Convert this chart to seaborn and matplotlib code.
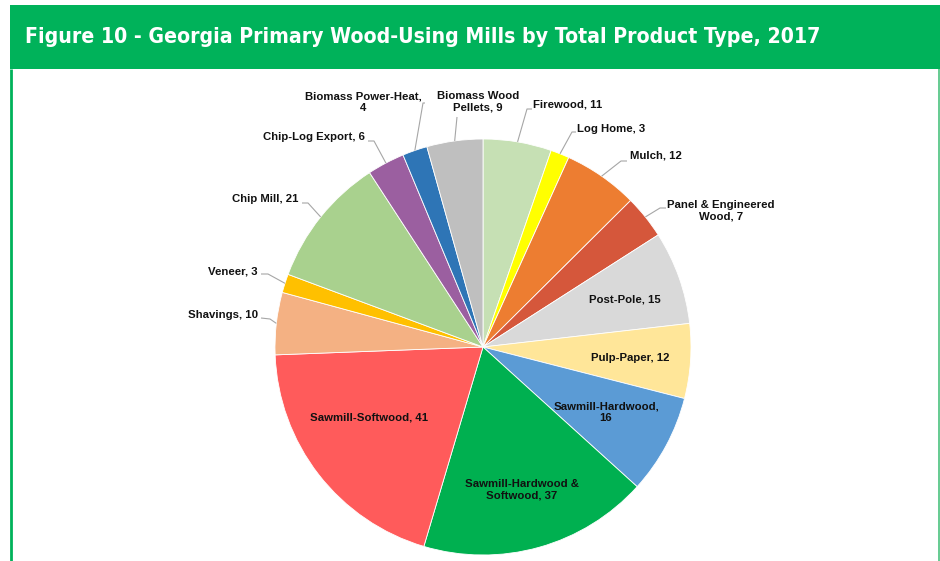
import numpy as np
import pandas as pd
import matplotlib
matplotlib.use("Agg")
import matplotlib.pyplot as plt
import seaborn as sns

# Mill counts by product type (clockwise from 12 o'clock)
categories = [
    "Firewood", "Log Home", "Mulch", "Panel & Engineered Wood", "Post-Pole",
    "Pulp-Paper", "Sawmill-Hardwood", "Sawmill-Hardwood & Softwood",
    "Sawmill-Softwood", "Shavings", "Veneer", "Chip Mill", "Chip-Log Export",
    "Biomass Power-Heat", "Biomass Wood Pellets",
]
mills = [11, 3, 12, 7, 15, 12, 16, 37, 41, 10, 3, 21, 6, 4, 9]
label_texts = [
    "Firewood, 11", "Log Home, 3", "Mulch, 12", "Panel & Engineered\nWood, 7",
    "Post-Pole, 15", "Pulp-Paper, 12", "Sawmill-Hardwood,\n16",
    "Sawmill-Hardwood &\nSoftwood, 37", "Sawmill-Softwood, 41", "Shavings, 10",
    "Veneer, 3", "Chip Mill, 21", "Chip-Log Export, 6", "Biomass Power-Heat,\n4",
    "Biomass Wood\nPellets, 9",
]
title = "Figure 10 - Georgia Primary Wood-Using Mills by Total Product Type, 2017"

colors = [
    "#C6E0B4", "#FFFF00", "#ED7D31", "#D5573B", "#D9D9D9",
    "#FFE699", "#5B9BD5", "#00B050", "#FF5B5B", "#F4B183",
    "#FFC000", "#A9D18E", "#9B5FA0", "#2E75B6", "#BFBFBF",
]

df = pd.DataFrame({"category": categories, "mills": mills, "label": label_texts})

# Layout (pixel coordinates, y measured from the top of the figure)
W, H = 940, 561
CX, CY, R = 483, 347, 208
GREEN = "#00B25A"

# Label placement: (x, y, ha, elbow) ; elbow=None -> label sits inside the wedge
label_layout = {
    "Firewood": (533, 104, "left", [(532, 109), (527, 109)]),
    "Log Home": (577, 129, "left", [(576, 132), (572, 132)]),
    "Mulch": (630, 155, "left", [(627, 161), (621, 161)]),
    "Panel & Engineered Wood": (721, 211, "center", [(666, 208), (660, 208)]),
    "Post-Pole": (625, 299, "center", None),
    "Pulp-Paper": (630, 358, "center", None),
    "Sawmill-Hardwood": (606, 412, "center", None),
    "Sawmill-Hardwood & Softwood": (522, 490, "center", None),
    "Sawmill-Softwood": (369, 417, "center", None),
    "Shavings": (258, 315, "right", [(261, 318), (270, 319)]),
    "Veneer": (258, 271, "right", [(261, 274), (268, 274)]),
    "Chip Mill": (299, 199, "right", [(302, 203), (308, 203)]),
    "Chip-Log Export": (365, 137, "right", [(368, 141), (374, 141)]),
    "Biomass Power-Heat": (363, 102, "center", [(425, 103), (423, 103)]),
    "Biomass Wood Pellets": (478, 102, "center", [(457, 117)]),
}

sns.set_theme(style="white")
plt.rcParams["font.family"] = ["Liberation Sans", "DejaVu Sans"]

fig = plt.figure(figsize=(W / 100, H / 100), dpi=100)
ax = fig.add_axes([0, 0, 1, 1])


def fy(y):
    return H - y


wedges, _ = ax.pie(
    df["mills"], colors=colors, startangle=90, counterclock=False,
    center=(CX, fy(CY)), radius=R,
    wedgeprops=dict(edgecolor="white", linewidth=0.6),
)
ax.set_xlim(0, W)
ax.set_ylim(0, H)
ax.set_aspect("equal")
ax.axis("off")

# Header band and frame
ax.add_patch(plt.Rectangle((10, fy(69)), W - 10, 64, color=GREEN, lw=0, zorder=0))
ax.plot([11, 11], [fy(69), 0], color=GREEN, lw=2, solid_capstyle="butt")
ax.plot([939, 939], [fy(69), 0], color="#4CC27F", lw=1.2, solid_capstyle="butt")

t = ax.text(25, fy(37), title, color="white", fontsize=17, fontweight="bold",
            family="DejaVu Sans", fontstretch="condensed",
            va="center", ha="left")
fig.canvas.draw()
bb = t.get_window_extent()
t.set_fontsize(17 * 793 / bb.width)

# Labels and leader lines
total = df["mills"].sum()
cum = np.cumsum(df["mills"]) - df["mills"] / 2
for (cat, lab), c in zip(zip(df["category"], df["label"]), cum):
    x, y, ha, elbow = label_layout[cat]
    ax.text(x, fy(y), lab, ha=ha, va="center", fontsize=8.2, fontweight="bold",
            color="#111111", linespacing=1.15, multialignment="center")
    if elbow is not None:
        ang = np.deg2rad(90 - 360 * c / total)
        ex, ey = CX + R * np.cos(ang), CY - R * np.sin(ang)
        pts = elbow + [(ex, ey)]
        ax.plot([p[0] for p in pts], [fy(p[1]) for p in pts],
                color="#A6A6A6", lw=0.8, solid_capstyle="butt")

fig.savefig("out.png", dpi=100, facecolor="white")
